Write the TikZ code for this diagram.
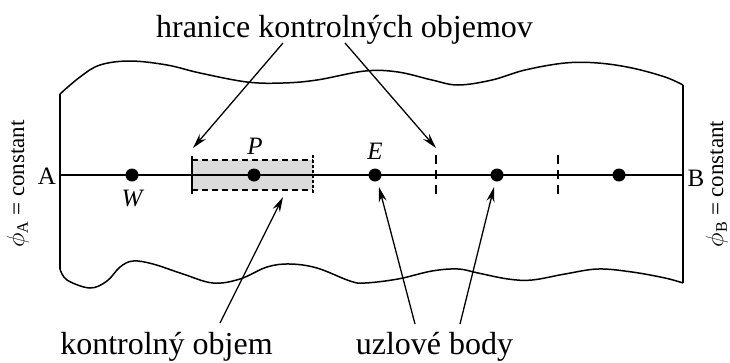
\documentclass[tikz,border=0pt]{standalone}
\usepackage{fontspec}
\setmainfont{Liberation Serif}
\usetikzlibrary{arrows.meta}
\begin{document}
\begin{tikzpicture}[x=1pt,y=-1pt,
  biglbl/.style={font=\fontsize{32}{36}\selectfont, inner sep=0pt, anchor=base},
  ptlbl/.style={font=\fontsize{25}{28}\selectfont\itshape, inner sep=0pt},
  endlbl/.style={font=\fontsize{25}{29}\selectfont, inner sep=0pt},
  bclbl/.style={font=\fontsize{23}{28}\selectfont, inner sep=0pt, rotate=90},
  dotnode/.style={circle, fill=black, inner sep=0pt, minimum size=13pt},
  arr/.style={-{Stealth[length=15pt,width=8pt]}, line width=1.3pt},
  wave/.style={line width=1.5pt},
  edge/.style={line width=1.5pt},
  mainline/.style={line width=2.2pt},
  cvdash/.style={line width=1.2pt, dash pattern=on 6pt off 4pt},
  tickdash/.style={line width=1.2pt, dash pattern=on 9pt off 6pt}
]
\useasboundingbox (0,0) rectangle (730,362);

% outline of the domain
\draw[edge] (60,269) -- (60,94);
\draw[edge] (683,85) -- (683,283);
\draw[wave] plot[smooth, tension=0.6] coordinates {
  (60,94) (80,77) (100,65) (130,61) (167,65) (200,73) (247,82) (283,83)
  (317,80) (365,71) (398,72) (432,80) (458,85) (492,80) (525,70) (565,63)
  (598,63) (632,68) (665,77) (683,85)};
\draw[wave] plot[smooth, tension=0.6] coordinates {
  (60,269) (67,280) (90,288) (107,281) (120,267) (133,261) (153,264) (183,274)
  (213,283) (240,279) (267,267) (290,264) (317,268) (350,281) (365,283)
  (398,279) (432,271) (458,269) (478,273) (508,279) (532,280) (565,274)
  (598,269) (632,272) (665,278) (683,283)};

% control volume around P
\fill[black!14] (192,160) rectangle (313,190);
\draw[cvdash] (192,160) -- (313,160);
\draw[cvdash] (192,190) -- (313,190);
\draw[line width=1.2pt] (192,156) -- (192,194);
\draw[line width=1.2pt, dash pattern=on 3pt off 2pt] (313,155) -- (313,194);

% other control-volume faces
\draw[tickdash] (436,155) -- (436,199);
\draw[tickdash] (558,155) -- (558,199);

% main line
\coordinate (L) at (60,175);
\coordinate (R) at (683,175);
\draw[mainline] (L) -- (R);

% nodal points
\node[dotnode] (W) at (132,175) {};
\node[dotnode] (P) at (254,175) {};
\node[dotnode] (E) at (375,175) {};
\node[dotnode] (N4) at (497,175) {};
\node[dotnode] (N5) at (619,175) {};

\node[ptlbl] (lW) at (132,198) {W};
\node[ptlbl] (lP) at (255,146) {P};
\node[ptlbl] (lE) at (375,151) {E};

\node[endlbl] (lA) at (47,176) {A};
\node[endlbl] (lB) at (696,178) {B};

\node[bclbl] (bcA) at (18,184) {$\phi_{\mathrm{A}}$ = constant};
\node[bclbl] (bcB) at (717,184) {$\phi_{\mathrm{B}}$ = constant};

% labels
\node[biglbl] (top) at (344.5,37) {hranice kontrolných objemov};
\node[biglbl] (cv) at (166.5,354) {kontrolný objem};
\node[biglbl] (nb) at (434.5,354) {uzlové body};

% arrows
\coordinate (t1s) at (283,43);
\coordinate (t1e) at (193,148);
\coordinate (t2s) at (345,43);
\coordinate (t2e) at (436,148);
\coordinate (cvs) at (220,323);
\coordinate (cve) at (283,197);
\coordinate (n1s) at (415,324);
\coordinate (n1e) at (379,187);
\coordinate (n2s) at (460,324);
\coordinate (n2e) at (494,187);
\draw[arr] (t1s) -- (t1e);
\draw[arr] (t2s) -- (t2e);
\draw[arr] (cvs) -- (cve);
\draw[arr] (n1s) -- (n1e);
\draw[arr] (n2s) -- (n2e);
\end{tikzpicture}
\end{document}
